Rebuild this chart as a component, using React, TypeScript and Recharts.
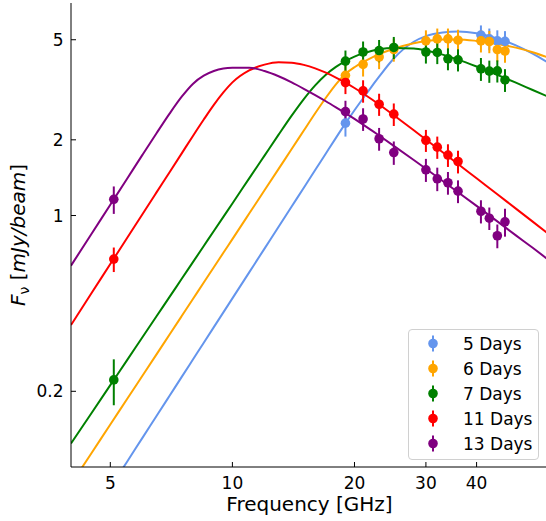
import { ComposedChart, Line, Scatter, XAxis, YAxis, ErrorBar, Label } from 'recharts'

const FONT = 'DejaVu Sans'

// frequencies (GHz) where the fitted curves are read
const fitFreq = [4, 4.5, 5, 5.5, 6, 6.5, 7, 7.5, 8, 8.5, 9, 9.5, 10, 11, 12, 13, 14, 15, 16, 17, 18, 19, 20, 21, 22, 23, 25, 28, 30, 33, 36, 40, 45, 50, 55, 60]

const fit5 = [0.0474, 0.0636, 0.0828, 0.105, 0.1306, 0.1595, 0.192, 0.2282, 0.2681, 0.3119, 0.3598, 0.4119, 0.4683, 0.5943, 0.7387, 0.9025, 1.086, 1.29, 1.516, 1.765, 2.036, 2.324, 2.622, 2.926, 3.242, 3.566, 4.213, 4.909, 5.17, 5.346, 5.393, 5.309, 5.064, 4.752, 4.403, 4.054]
const fit6 = [0.0854, 0.114, 0.1475, 0.1864, 0.2306, 0.2805, 0.3364, 0.3984, 0.4667, 0.5415, 0.6227, 0.7109, 0.806, 1.018, 1.26, 1.533, 1.838, 2.177, 2.55, 2.94, 3.325, 3.655, 3.887, 4.072, 4.236, 4.38, 4.605, 4.844, 4.945, 5.017, 5.017, 4.948, 4.811, 4.651, 4.457, 4.249]
const fit7 = [0.124, 0.1644, 0.2117, 0.2661, 0.328, 0.3975, 0.4747, 0.5603, 0.654, 0.7565, 0.868, 0.9881, 1.117, 1.405, 1.731, 2.097, 2.496, 2.905, 3.294, 3.63, 3.898, 4.111, 4.283, 4.414, 4.511, 4.58, 4.638, 4.611, 4.532, 4.363, 4.169, 3.913, 3.625, 3.375, 3.156, 2.97]
const fit11 = [0.367, 0.4928, 0.6412, 0.8138, 1.012, 1.236, 1.487, 1.767, 2.077, 2.409, 2.755, 3.087, 3.385, 3.778, 3.981, 4.07, 4.055, 3.972, 3.848, 3.698, 3.536, 3.376, 3.215, 3.057, 2.906, 2.763, 2.504, 2.183, 2.005, 1.784, 1.603, 1.406, 1.215, 1.065, 0.946, 0.848]
const fit13 = [0.632, 0.8485, 1.104, 1.401, 1.742, 2.124, 2.542, 2.968, 3.345, 3.597, 3.755, 3.841, 3.868, 3.872, 3.755, 3.578, 3.385, 3.192, 3.012, 2.847, 2.693, 2.552, 2.421, 2.299, 2.185, 2.08, 1.893, 1.662, 1.534, 1.372, 1.238, 1.092, 0.948, 0.834, 0.744, 0.669]

// measured flux densities (mJy/beam)
const freq5 = [19, 41, 43, 45, 47]
const flux5 = [2.33, 5.22, 5.04, 4.95, 4.93]
const err5 = [0.27, 0.48, 0.5, 0.5, 0.48]

const freq6 = [19, 21, 23, 25, 30, 32, 34, 36, 41, 43, 45, 47]
const flux6 = [3.61, 3.99, 4.27, 4.57, 4.95, 5.04, 5.04, 4.98, 4.95, 4.92, 4.57, 4.51]
const err6 = [0.38, 0.42, 0.45, 0.48, 0.5, 0.5, 0.5, 0.5, 0.5, 0.5, 0.48, 0.46]

const freq7 = [5.1, 19, 21, 23, 25, 30, 32, 34, 36, 41, 43, 45, 47]
const flux7 = [0.222, 4.11, 4.47, 4.53, 4.66, 4.47, 4.45, 4.2, 4.16, 3.83, 3.75, 3.76, 3.46]
const err7 = [0.046, 0.42, 0.45, 0.46, 0.47, 0.45, 0.45, 0.42, 0.42, 0.4, 0.38, 0.38, 0.36]

const freq11 = [5.1, 19, 21, 23, 25, 30, 32, 34, 36]
const flux11 = [0.671, 3.38, 3.13, 2.77, 2.53, 1.99, 1.87, 1.74, 1.64]
const err11 = [0.075, 0.34, 0.32, 0.28, 0.26, 0.2, 0.19, 0.18, 0.17]

const freq13 = [5.1, 19, 21, 23, 25, 30, 32, 34, 36, 41, 43, 45, 47]
const flux13 = [1.16, 2.59, 2.42, 2.02, 1.78, 1.52, 1.4, 1.35, 1.25, 1.04, 0.976, 0.831, 0.944]
const err13 = [0.145, 0.27, 0.25, 0.21, 0.19, 0.16, 0.15, 0.14, 0.13, 0.11, 0.1, 0.09, 0.12]

const xTicks = [5, 10, 20, 30, 40]
const yTicks = [0.2, 1, 2, 5]

const series = [
  { key: 'd5', name: '5 Days', color: '#6495ED', fit: fit5, freq: freq5, flux: flux5, err: err5 },
  { key: 'd6', name: '6 Days', color: '#FFA500', fit: fit6, freq: freq6, flux: flux6, err: err6 },
  { key: 'd7', name: '7 Days', color: '#008000', fit: fit7, freq: freq7, flux: flux7, err: err7 },
  { key: 'd11', name: '11 Days', color: '#FF0000', fit: fit11, freq: freq11, flux: flux11, err: err11 },
  { key: 'd13', name: '13 Days', color: '#800080', fit: fit13, freq: freq13, flux: flux13, err: err13 },
]

const fitRows = fitFreq.map((f, i) => {
  const row: any = { f }
  series.forEach((s) => (row[s.key] = s.fit[i]))
  return row
})

const YLabel = (props: any) => {
  const vb = props.viewBox || {}
  const cx = 25
  const cy = vb.y + vb.height / 2
  return (
    <text
      x={cx}
      y={cy}
      transform={`rotate(-90, ${cx}, ${cy})`}
      textAnchor="middle"
      fontFamily={FONT}
      fontSize={20}
      fill="#000"
    >
      <tspan fontStyle="italic">F</tspan>
      <tspan fontSize={14} dy={4}>ν</tspan>
      <tspan dy={-4}> [</tspan>
      <tspan fontStyle="italic">mJy/beam</tspan>
      <tspan>]</tspan>
    </text>
  )
}

function LegendBox() {
  return (
    <div
      style={{
        position: 'absolute',
        left: 408,
        top: 329,
        width: 129,
        height: 129,
        border: '1px solid #d0d0d0',
        borderRadius: 4,
        background: 'rgba(255,255,255,0.8)',
        fontFamily: FONT,
        fontSize: 17,
        color: '#000',
      }}
    >
      {series.map((s, i) => (
        <div
          key={s.key}
          style={{
            position: 'absolute',
            left: 0,
            top: 1 + i * 25,
            height: 25,
            display: 'flex',
            alignItems: 'center',
            whiteSpace: 'nowrap',
          }}
        >
          <svg width={48} height={25} style={{ display: 'block' }}>
            <line x1={24} x2={24} y1={4.5} y2={20.5} stroke={s.color} strokeWidth={2} />
            <circle cx={24} cy={12.5} r={4.8} fill={s.color} />
          </svg>
          <span style={{ marginLeft: 6 }}>{s.name}</span>
        </div>
      ))}
    </div>
  )
}

export default function App() {
  return (
    <div style={{ position: 'absolute', left: 0, top: 0, width: 546, height: 521, overflow: 'hidden', background: '#fff' }}>
      <ComposedChart width={548} height={521} data={fitRows} margin={{ top: 3, right: 0, bottom: 24, left: 0 }}>
        <XAxis
          dataKey="f"
          type="number"
          scale="log"
          domain={[4, 60]}
          ticks={xTicks}
          interval={0}
          allowDataOverflow
          height={30}
          tickSize={-5}
          tickMargin={15}
          stroke="#000"
          tick={{ fontSize: 17, fill: '#000', fontFamily: FONT }}
        >
          <Label
            value="Frequency [GHz]"
            position="bottom"
            offset={0}
            style={{ fontSize: 20, fill: '#000', fontFamily: FONT }}
          />
        </XAxis>
        <XAxis
          xAxisId="top"
          orientation="top"
          type="number"
          scale="log"
          domain={[4, 60]}
          allowDataOverflow
          height={0}
          tick={false}
          tickLine={false}
          stroke="#000"
        />
        <YAxis
          type="number"
          scale="log"
          domain={[0.1, 7]}
          ticks={yTicks}
          interval={0}
          allowDataOverflow
          width={71}
          tickSize={-5}
          tickMargin={12.5}
          stroke="#000"
          tick={{ fontSize: 17, fill: '#000', fontFamily: FONT }}
          label={<YLabel />}
        />
        {series.map((s) => (
          <Line
            key={s.key}
            dataKey={s.key}
            type="monotone"
            stroke={s.color}
            strokeWidth={2}
            dot={false}
            activeDot={false}
            isAnimationActive={false}
          />
        ))}
        {series.map((s) => (
          <Scatter
            key={'pts' + s.key}
            name={s.name}
            data={s.freq.map((f, i) => ({ f, v: s.flux[i], err: s.err[i] }))}
            dataKey="v"
            fill={s.color}
            isAnimationActive={false}
            shape={(p: any) => <circle cx={p.cx} cy={p.cy} r={4.8} fill={s.color} />}
          >
            <ErrorBar dataKey="err" direction="y" width={0} stroke={s.color} strokeWidth={2} />
          </Scatter>
        ))}
      </ComposedChart>
      <LegendBox />
    </div>
  )
}
